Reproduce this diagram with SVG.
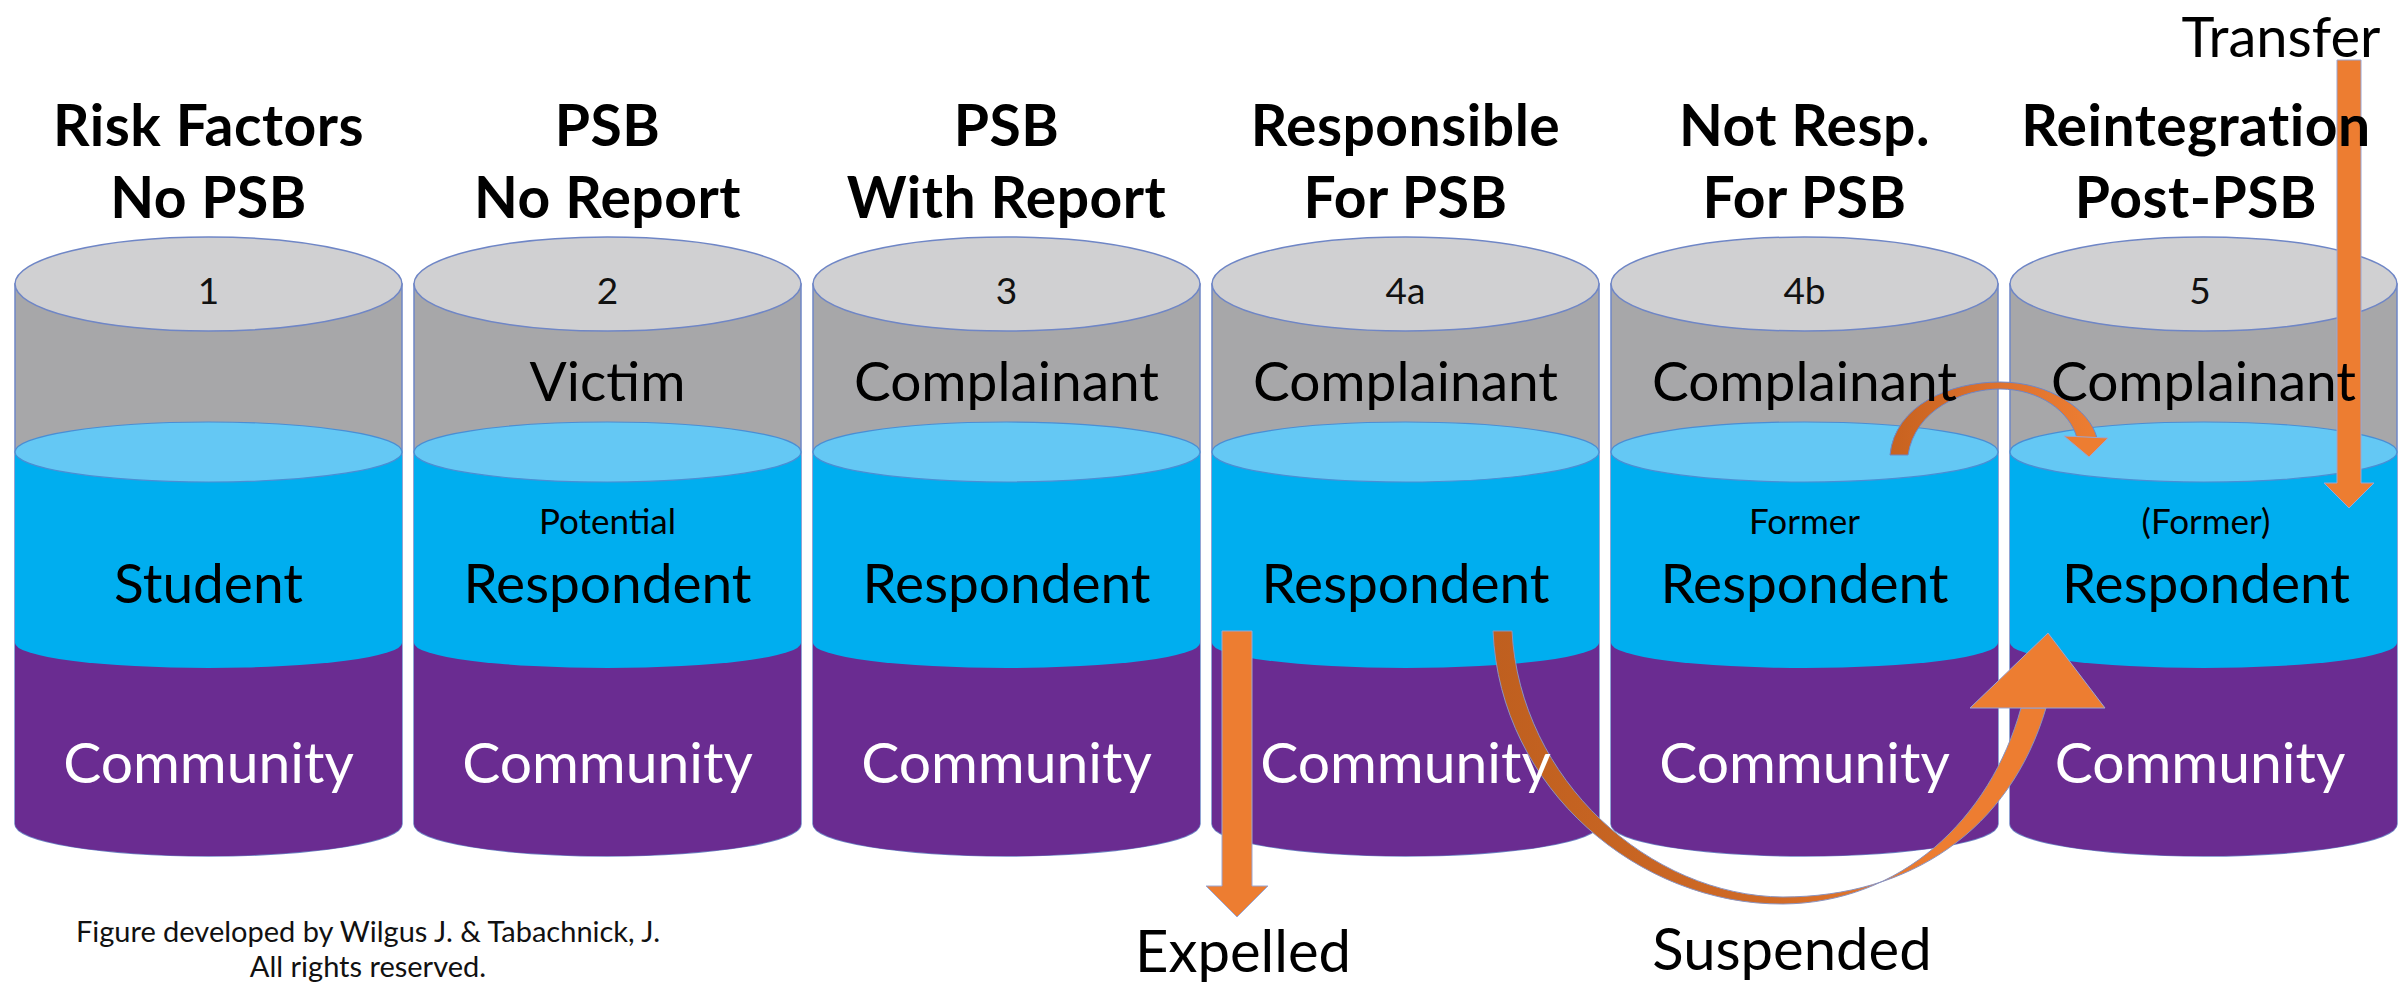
<svg xmlns="http://www.w3.org/2000/svg" xmlns:xlink="http://www.w3.org/1999/xlink" width="2408" height="984" viewBox="0 0 2408 984">
<style>
  text { font-family: Lato, "Open Sans", "Liberation Sans", sans-serif; text-anchor: middle; }
  .title { font-weight: bold; font-size: 57px; letter-spacing: 0.5px; fill: #000; }
  .num { font-size: 37px; fill: #111; }
  .lbl { font-size: 55px; fill: #000; }
  .small { font-size: 35px; fill: #000; }
  .comm { font-size: 57px; fill: #fff; }
  .out { font-size: 58px; fill: #000; }
  .foot { font-size: 29px; fill: #111; }
  .arrow { fill: #ED7D31; stroke: #9AA6D4; stroke-width: 1; }
</style>
<defs>
  <g id="cylShape">
    <path d="M0,284 V824 A193.5,32 0 0 0 387,824 V284 Z" fill="#A7A7A9" stroke="#6F86C6" stroke-width="1.5"/>
    <path d="M0,643 V824 A193.5,32 0 0 0 387,824 V643 Z" fill="#6A2C91"/>
    <path d="M0,452 V643 A193.5,25 0 0 0 387,643 V452 Z" fill="#00AEEF"/>
    <ellipse cx="193.5" cy="452" rx="193.5" ry="30" fill="#64C8F4" stroke="#4A8ED4" stroke-width="1.2"/>
    <ellipse cx="193.5" cy="284" rx="193.5" ry="47" fill="#D0D0D2" stroke="#6F86C6" stroke-width="1.5"/>
  </g>
  <linearGradient id="arcGrad" x1="0" y1="0" x2="1" y2="0">
    <stop offset="0" stop-color="#BF5F1F"/>
    <stop offset="0.5" stop-color="#D06A26"/>
    <stop offset="0.8" stop-color="#ED7D31"/>
    <stop offset="1" stop-color="#ED7D31"/>
  </linearGradient>
  <linearGradient id="smallGrad" x1="0" y1="0" x2="1" y2="0">
    <stop offset="0" stop-color="#C8621F"/>
    <stop offset="0.6" stop-color="#E07430"/>
    <stop offset="1" stop-color="#ED7D31"/>
  </linearGradient>
</defs>

<g id="nodes">
  <g id="node-1"><use xlink:href="#cylShape" href="#cylShape" x="15"/></g>
  <g id="node-2"><use xlink:href="#cylShape" href="#cylShape" x="414"/></g>
  <g id="node-3"><use xlink:href="#cylShape" href="#cylShape" x="813"/></g>
  <g id="node-4a"><use xlink:href="#cylShape" href="#cylShape" x="1212"/></g>
  <g id="node-4b"><use xlink:href="#cylShape" href="#cylShape" x="1611"/></g>
  <g id="node-5"><use xlink:href="#cylShape" href="#cylShape" x="2010"/></g>
</g>

<g id="connectors">
  <g id="expelled-arrow">
    <path class="arrow" d="M1222,631 H1252 V886 H1268 L1237,917 L1206,886 H1222 Z"/>
  </g>
  <g id="suspended-arrow">
    <path d="M1493,631 C1500,790 1640,905 1783,904 C1900,903 1990,820 2021,708 L2046,708 C2010,830 1910,897 1783,897 C1650,896 1520,780 1512,631 Z" fill="url(#arcGrad)" stroke="#8A93C0" stroke-width="1"/>
    <path class="arrow" d="M1970,708 L2048,633 L2105,708 Z"/>
  </g>
  <g id="reintegration-arrow">
    <path d="M1890,455 C1895,405 1950,382 2000,382 C2050,382 2090,410 2097,438 L2077,438 C2070,412 2040,389 2000,389 C1962,389 1915,410 1908,455 Z" fill="url(#smallGrad)" stroke="#6F86C6" stroke-width="1"/>
    <path class="arrow" d="M2064,436 L2108,438 L2089,457 Z"/>
  </g>
  <g id="transfer-arrow">
    <path class="arrow" d="M2337,60 H2361 V483 H2374 L2349,508 L2324,483 H2337 Z"/>
  </g>
</g>

<g id="labels">
  <g id="node-1-labels">
    <text class="title" x="208.5" y="146">Risk Factors</text>
    <text class="title" x="208.5" y="218">No PSB</text>
    <text class="num" x="208.5" y="304">1</text>
    <text class="lbl" x="208.5" y="603">Student</text>
    <text class="comm" x="208.5" y="783">Community</text>
  </g>
  <g id="node-2-labels">
    <text class="title" x="607.5" y="146">PSB</text>
    <text class="title" x="607.5" y="218">No Report</text>
    <text class="num" x="607.5" y="304">2</text>
    <text class="lbl" x="607.5" y="401">Victim</text>
    <text class="small" x="607.5" y="534">Potential</text>
    <text class="lbl" x="607.5" y="603">Respondent</text>
    <text class="comm" x="607.5" y="783">Community</text>
  </g>
  <g id="node-3-labels">
    <text class="title" x="1006.5" y="146">PSB</text>
    <text class="title" x="1006.5" y="218">With Report</text>
    <text class="num" x="1006.5" y="304">3</text>
    <text class="lbl" x="1006.5" y="401">Complainant</text>
    <text class="lbl" x="1006.5" y="603">Respondent</text>
    <text class="comm" x="1006.5" y="783">Community</text>
  </g>
  <g id="node-4a-labels">
    <text class="title" x="1405.5" y="146">Responsible</text>
    <text class="title" x="1405.5" y="218">For PSB</text>
    <text class="num" x="1405.5" y="304">4a</text>
    <text class="lbl" x="1405.5" y="401">Complainant</text>
    <text class="lbl" x="1405.5" y="603">Respondent</text>
    <text class="comm" x="1405.5" y="783">Community</text>
  </g>
  <g id="node-4b-labels">
    <text class="title" x="1804.5" y="146">Not Resp.</text>
    <text class="title" x="1804.5" y="218">For PSB</text>
    <text class="num" x="1804.5" y="304">4b</text>
    <text class="lbl" x="1804.5" y="401">Complainant</text>
    <text class="small" x="1804.5" y="534">Former</text>
    <text class="lbl" x="1804.5" y="603">Respondent</text>
    <text class="comm" x="1804.5" y="783">Community</text>
  </g>
  <g id="node-5-labels">
    <text class="title" x="2196" y="146">Reintegration</text>
    <text class="title" x="2196" y="218">Post-PSB</text>
    <text class="num" x="2200" y="304">5</text>
    <text class="lbl" x="2203.5" y="401">Complainant</text>
    <text class="small" x="2206" y="534">(Former)</text>
    <text class="lbl" x="2206" y="603">Respondent</text>
    <text class="comm" x="2200" y="783">Community</text>
  </g>
  <g id="outcome-labels">
    <text class="out" x="1243" y="972">Expelled</text>
    <text class="out" x="1792" y="970">Suspended</text>
    <text class="out" x="2281" y="57" style="font-size:56px">Transfer</text>
  </g>
  <g id="footer">
    <text class="foot" x="368" y="942">Figure developed by Wilgus J. &amp; Tabachnick, J.</text>
    <text class="foot" x="368" y="977">All rights reserved.</text>
  </g>
</g>
</svg>
